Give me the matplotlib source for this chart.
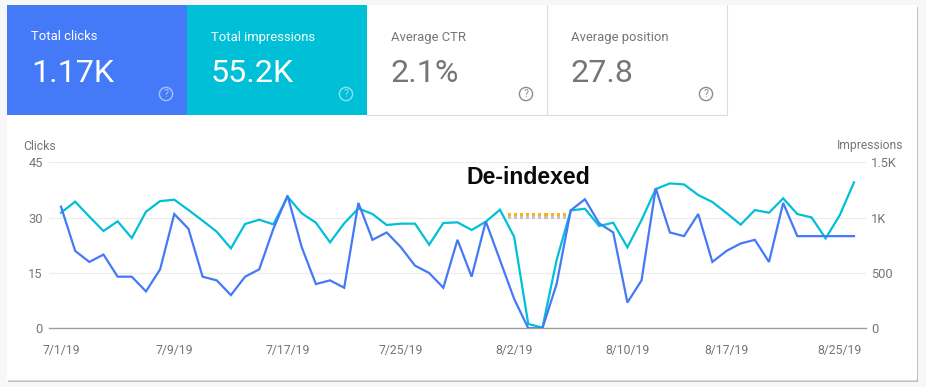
import matplotlib
matplotlib.use("Agg")
import numpy as np
import pandas as pd
import matplotlib.pyplot as plt
from matplotlib.patches import Rectangle, FancyBboxPatch

plt.rcParams['font.family'] = ['Roboto', 'DejaVu Sans']

W, H = 926, 387

# one value per day from 7/1/19
dates = pd.date_range('2019-07-01', periods=57)
clicks = [33, 21, 18, 20, 14, 14, 10, 16, 31, 27, 14, 13, 9, 14, 16, 27, 36, 22, 12,
          13, 11, 34, 24, 26, 22, 17, 15, 11, 24, 14, 29, 18.5, 8, 0, 0, 12, 32, 35,
          28.5, 26, 7, 13, 38, 26, 25, 31, 18, 21, 23, 24, 18, 34, 25, 25, 25, 25, 25]
impressions = [1045, 1145, 1010, 880, 967, 816, 1054, 1150, 1163, 1070, 973, 873, 723,
               943, 982, 940, 1190, 1040, 955, 777, 949, 1084, 1033, 934, 946, 946, 756,
               952, 958, 889, 964, 1072, 828, 39, 6, 617, 1066, 1081, 925, 955, 732, 979,
               1259, 1310, 1301, 1205, 1142, 1042, 937, 1069, 1045, 1175, 1033, 1003, 813,
               1024, 1319]

tick_days = [0, 8, 16, 24, 32, 40, 47, 55]
tick_labels = ['7/1/19', '7/9/19', '7/17/19', '7/25/19', '8/2/19', '8/10/19', '8/17/19', '8/25/19']
left_ticks = [0, 15, 30, 45]
right_ticks = [0, 500, 1000, 1500]
right_labels = ['0', '500', '1K', '1.5K']

card_titles = ['Total clicks', 'Total impressions', 'Average CTR', 'Average position']
card_values = ['1.17K', '55.2K', '2.1%', '27.8']

BLUE = '#4479f8'
TEAL = '#00c0d8'
GREY = '#757575'

fig = plt.figure(figsize=(W / 100, H / 100), dpi=100, facecolor='#f7f7f7')

# whole figure in pixel coords for the cards
bg = fig.add_axes([0, 0, 1, 1])
bg.set_xlim(0, W)
bg.set_ylim(H, 0)
bg.axis('off')

bg.add_patch(Rectangle((8, 7), 910, 375, fc='#a8a8a8', ec='none', alpha=0.7))
bg.add_patch(FancyBboxPatch((7, 5), 910, 375.5, boxstyle='round,pad=0,rounding_size=2',
                            fc='white', ec='none'))

card_x = [7, 187, 367, 547]
card_colors = [BLUE, TEAL, 'white', 'white']
for i in range(4):
    x = card_x[i]
    colored = i < 2
    bg.add_patch(Rectangle((x, 5), 180, 110, fc=card_colors[i], ec='none'))
    if not colored:
        bg.plot([x, x + 179.5, x + 179.5], [114.5, 114.5, 5], color='#dcdcdc', lw=0.8)
    fg = 'white' if colored else GREY
    bg.text(x + 24, 37, card_titles[i], color=fg, fontsize=9.4, va='center', ha='left')
    bg.text(x + 24, 73, card_values[i], color=fg, fontsize=23.2, va='center', ha='left')
    ic = '#ffffff' if colored else '#8c8c8c'
    bg.add_patch(plt.Circle((x + 159, 94), 6.6, fc='none', ec=ic, lw=1.0,
                            alpha=0.55 if colored else 1))
    bg.text(x + 159, 94, '?', color=ic, fontsize=7.5, ha='center', va='center',
            alpha=0.55 if colored else 1)

# chart
x0, x1 = 49, 866
y_top, y_bot = 162.4, 328.3
ax = fig.add_axes([x0 / W, 1 - y_bot / H, (x1 - x0) / W, (y_bot - y_top) / H])
ax.patch.set_alpha(0)
ax2 = ax.twinx()

px_day = 14.16
day_lo = pd.Timedelta(days=(x0 - 61) / px_day)
day_hi = pd.Timedelta(days=(x1 - 61) / px_day)
ax.set_xlim(dates[0] + day_lo, dates[0] + day_hi)
ax.set_ylim(0, 45)
ax2.set_ylim(0, 1500)

for a in (ax, ax2):
    for s in a.spines.values():
        s.set_visible(False)
ax.spines['bottom'].set_visible(True)
ax.spines['bottom'].set_color('#9e9e9e')
ax.spines['bottom'].set_linewidth(1.0)
ax.set_axisbelow(True)
ax.grid(axis='y', color='#ececec', lw=0.9)
ax.grid(axis='x', visible=False)

ax.set_yticks(left_ticks)
ax.set_xticks([dates[d] for d in tick_days])
ax.set_xticklabels(tick_labels)
ax2.set_yticks(right_ticks)
ax2.set_yticklabels(right_labels)
ax.tick_params(axis='x', length=0, pad=11, labelsize=8.8, labelcolor=GREY)
ax.tick_params(axis='y', length=0, pad=4.5, labelsize=9.3, labelcolor=GREY)
ax2.tick_params(axis='y', length=0, pad=3.5, labelsize=9.3, labelcolor=GREY)

clicks_scaled = [c * 1500 / 45 for c in clicks]
ax2.plot(dates, impressions, color=TEAL, lw=1.6, solid_joinstyle='miter')
ax2.plot(dates, clicks_scaled, color=BLUE, lw=1.6, solid_joinstyle='miter')

# labels over the axes
bg.text(23, 146, 'Clicks', color=GREY, fontsize=8.8, va='center', ha='left')
bg.text(903, 146, 'Impressions', color=GREY, fontsize=8.7, va='center', ha='right')
fig.text(528.5 / W, 1 - 178 / H, 'De-indexed', color='#0a0a0a', fontsize=16.6,
         fontweight='bold', family=['Liberation Sans', 'DejaVu Sans'], ha='center', va='center')

# the dotted marker under the annotation
for px in np.arange(507.5, 565, 6.15):
    fig.patches.append(Rectangle((px / W, 1 - 219 / H), 3.2 / W, 3 / H, transform=fig.transFigure,
                                 fc='#c4c4c4', ec='none', zorder=5))
    fig.patches.append(Rectangle((px / W, 1 - 216 / H), 3.2 / W, 3 / H, transform=fig.transFigure,
                                 fc='#fbb117', ec='none', zorder=5))

fig.savefig('out.png', dpi=100, facecolor=fig.get_facecolor())
